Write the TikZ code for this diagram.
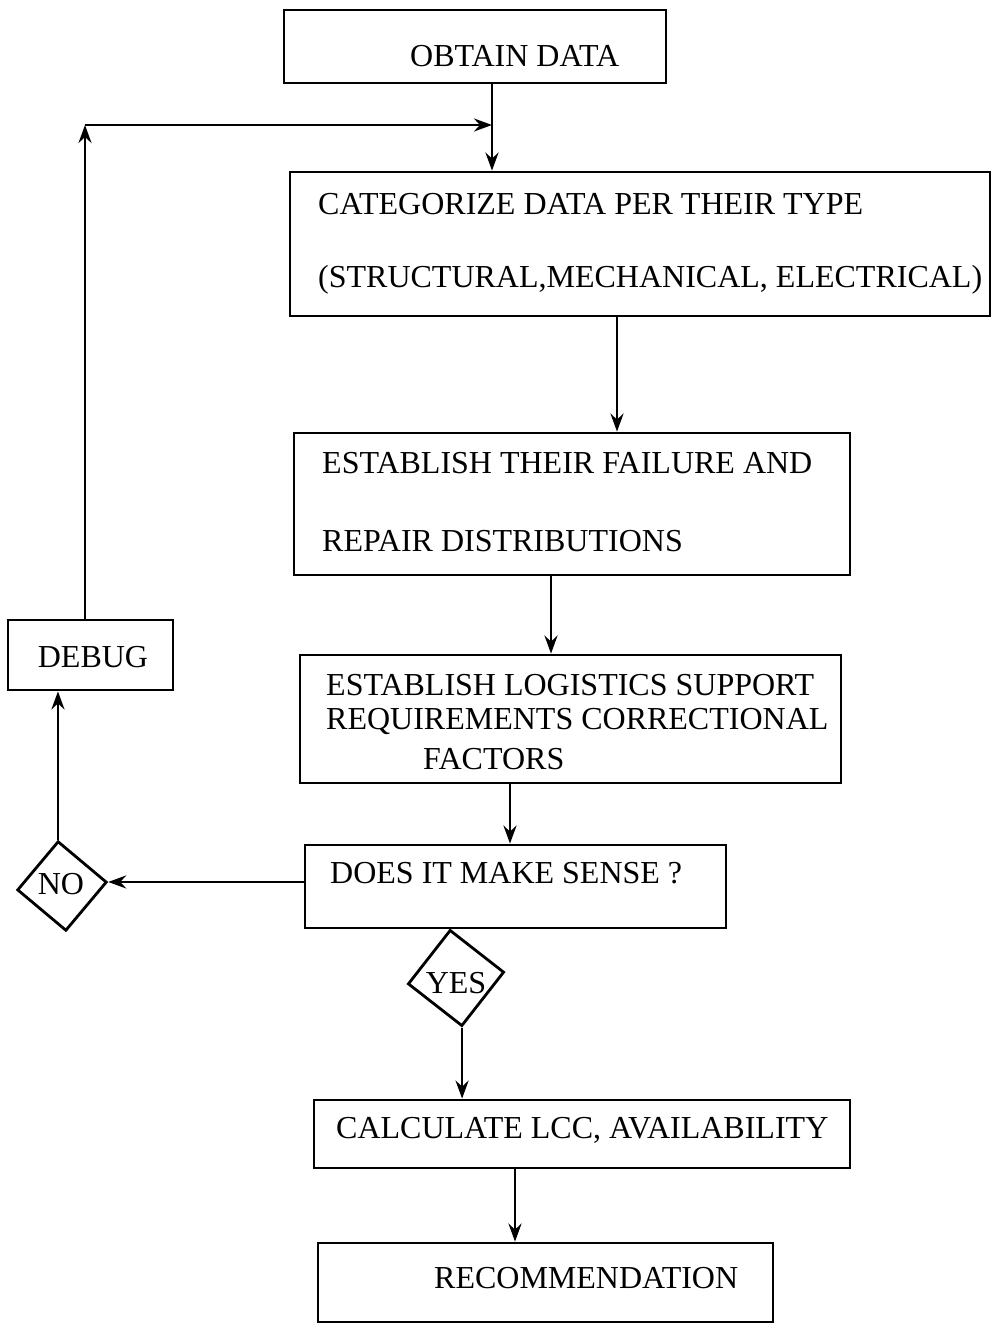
\documentclass[tikz,border=0pt]{standalone}
\usepackage{fontspec}
\setmainfont{Liberation Serif}
\usetikzlibrary{shapes.geometric,arrows.meta}

\begin{document}
\begin{tikzpicture}[x=1pt,y=-1pt,
  box/.style={draw,line width=2.8pt,inner sep=0pt},
  decision/.style={draw,diamond,line width=2.8pt,inner sep=0pt,aspect=1},
  lbl/.style={anchor=base west,inner sep=0pt,font=\fontsize{32}{36}\selectfont},
  clbl/.style={inner sep=0pt,font=\fontsize{32}{36}\selectfont},
  arr/.style={line width=2.8pt,-{Stealth[length=18pt,width=13pt,inset=6pt]}},
  ln/.style={line width=2.8pt}
]
\useasboundingbox (0,0) rectangle (996,1333);

% process boxes
\node[box,minimum width=382pt,minimum height=73pt]  (obtain) at (475,46.5) {};
\node[box,minimum width=700pt,minimum height=144pt] (categ)  at (640,244) {};
\node[box,minimum width=556pt,minimum height=142pt] (fail)   at (572,504) {};
\node[box,minimum width=541pt,minimum height=128pt] (logist) at (570.5,719) {};
\node[box,minimum width=421pt,minimum height=83pt]  (sense)  at (515.5,886.5) {};
\node[box,minimum width=536pt,minimum height=68pt]  (calc)   at (582,1134) {};
\node[box,minimum width=455pt,minimum height=79pt]  (recom)  at (545.5,1282.5) {};
\node[box,minimum width=165pt,minimum height=70pt]  (debug)  at (90.5,655) {};

% decisions
\node[decision,minimum width=90pt,minimum height=90pt,rotate=5] (no)  at (62,886) {};
\node[decision,minimum width=97pt,minimum height=97pt,rotate=7] (yes) at (456,978) {};

% texts
\node[lbl] (tobtain) at (410,66)  {OBTAIN DATA};
\node[lbl] (tcat1)   at (318,214) {CATEGORIZE DATA PER THEIR TYPE};
\node[lbl] (tcat2)   at (318,287) {(STRUCTURAL,MECHANICAL, ELECTRICAL)};
\node[lbl] (tfail1)  at (322,473) {ESTABLISH THEIR FAILURE AND};
\node[lbl] (tfail2)  at (322,551) {REPAIR DISTRIBUTIONS};
\node[lbl] (tlog1)   at (326,695) {ESTABLISH LOGISTICS SUPPORT};
\node[lbl] (tlog2)   at (326,729) {REQUIREMENTS CORRECTIONAL};
\node[lbl] (tlog3)   at (423,769) {FACTORS};
\node[lbl] (tsense)  at (330,883) {DOES IT MAKE SENSE ?};
\node[lbl] (tcalc)   at (336,1138) {CALCULATE LCC, AVAILABILITY};
\node[lbl] (trecom)  at (434,1288) {RECOMMENDATION};
\node[clbl] (tdebug) at (93,657)  {DEBUG};
\node[clbl] (tno)    at (61,884)  {NO};
\node[clbl] (tyes)   at (456,983) {YES};

% loop-back corner and junction
\coordinate (corner) at (85,125);
\coordinate (junc)   at (492,125);

% connectors
\draw[ln]  (obtain.south -| junc) -- (junc);
\draw[arr] (junc) -- (categ.north -| junc);
\draw[arr] (categ.south -| 617,0) -- (fail.north -| 617,0);
\draw[arr] (fail.south -| 551,0) -- (logist.north -| 551,0);
\draw[arr] (logist.south -| 510,0) -- (sense.north -| 510,0);
\draw[arr] (sense.west |- no.east) -- (no.east);
\draw[arr] (no.north) -- (no.north |- debug.south);
\draw[arr] (corner |- debug.north) -- (corner);
\draw[arr] (corner) -- (junc);
\draw[arr] (yes.south) -- (yes.south |- calc.north);
\draw[arr] (calc.south -| 515,0) -- (recom.north -| 515,0);
\end{tikzpicture}
\end{document}
